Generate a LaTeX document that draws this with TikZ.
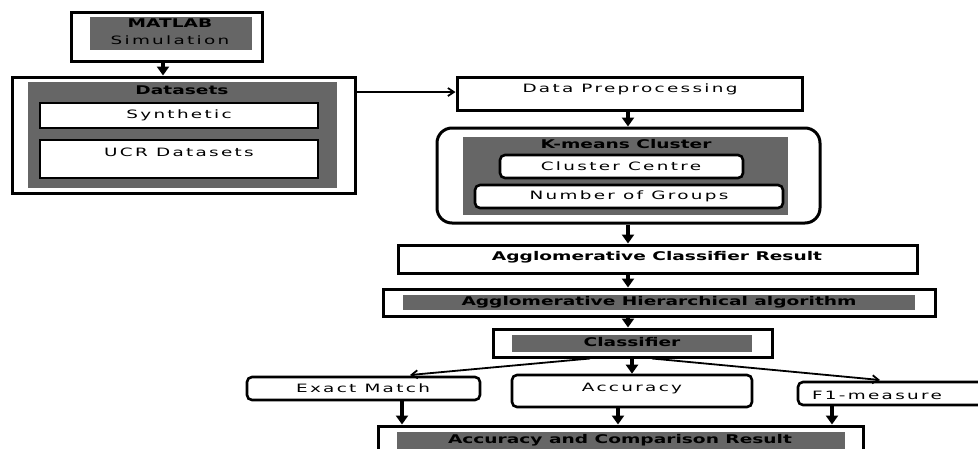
\documentclass[tikz,border=0pt]{standalone}
\usepackage{fontspec}
\usepackage{tikz}
\usetikzlibrary{arrows.meta}

\newfontfamily\bodyfont{DejaVu Sans}[FakeStretch=1.6, LetterSpace=20]
\newfontfamily\headfont{DejaVu Sans}[FakeStretch=1.55]
\definecolor{panelgray}{HTML}{666666}

\begin{document}
\begin{tikzpicture}[x=1pt, y=-1pt,
                    outerbox/.style={draw, line width=3pt, fill=white, inner sep=0pt},
                    panel/.style={fill=panelgray, inner sep=0pt},
                    innerbox/.style={draw, line width=2.6pt, fill=white, inner sep=0pt},
                    roundbox/.style={innerbox, rounded corners=5pt},
                    txt/.style={inner sep=0pt, font=\bodyfont\fontsize{11.5}{13}\selectfont},
                    head/.style={inner sep=0pt, font=\headfont\bfseries\fontsize{12}{14}\selectfont},
                    flow/.style={-{Triangle[length=9pt, width=12pt]}, line width=3.2pt},
                    thinflow/.style={-{Straight Barb[length=6pt, width=8pt]}, line width=1.8pt}]

    \useasboundingbox (0,0) rectangle (978,448);
    \fill[white] (0,0) rectangle (978,448);
    \clip (0,0) rectangle (978,448);

    % left column
    \node[outerbox, minimum width=191pt, minimum height=49pt] (matlab) at (166.5,36.5) {};
    \node[panel, minimum width=162pt, minimum height=33pt] (matlabp) at (171,33.5) {};
    \node[head] (matlabt) at (170,23) {MATLAB};
    \node[txt] (simt) at (170,40) {Simulation};

    \node[outerbox, minimum width=343pt, minimum height=116pt] (data) at (183.5,135) {};
    \node[panel, minimum width=309pt, minimum height=106pt] (datap) at (182.5,135) {};
    \node[head] (datat) at (182,90) {Datasets};
    \node[innerbox, minimum width=278pt, minimum height=25pt] (synth) at (179,115.5) {};
    \node[txt] (syntht) at (179,115) {Synthetic};
    \node[innerbox, minimum width=278pt, minimum height=38pt] (ucr) at (179,159) {};
    \node[txt] (ucrt) at (179,152) {UCR Datasets};

    % right column
    \node[outerbox, minimum width=345pt, minimum height=33pt] (prep) at (629.5,93.5) {};
    \node[txt] (prept) at (630,89) {Data Preprocessing};

    \node[outerbox, rounded corners=15pt, minimum width=383pt, minimum height=95pt] (kmeans) at (628.5,175.5) {};
    \node[panel, minimum width=325pt, minimum height=78pt] (kmeansp) at (625.5,176) {};
    \node[head] (kmeanst) at (626,144) {K-means Cluster};
    \node[roundbox, minimum width=243pt, minimum height=23pt] (centre) at (621.5,166.5) {};
    \node[txt] (centret) at (621,166) {Cluster Centre};
    \node[roundbox, minimum width=308pt, minimum height=23pt] (groups) at (629,196.5) {};
    \node[txt] (groupst) at (629,196) {Number of Groups};

    \node[outerbox, minimum width=519pt, minimum height=28pt] (aggres) at (657.5,259) {};
    \node[head] (aggrest) at (657,257) {Agglomerative Classifier Result};

    \node[outerbox, minimum width=552pt, minimum height=27pt] (aggalg) at (659,302.5) {};
    \node[panel, minimum width=512pt, minimum height=15pt] (aggalgp) at (659,302.5) {};
    \node[head] (aggalgt) at (659,302) {Agglomerative Hierarchical algorithm};

    \node[outerbox, minimum width=279pt, minimum height=28pt] (clsf) at (632.5,343) {};
    \node[panel, minimum width=240pt, minimum height=17pt] (clsfp) at (632,343.5) {};
    \node[head] (clsft) at (632,342) {Classifier};

    % measures
    \node[roundbox, minimum width=233pt, minimum height=23pt] (exact) at (363.5,388.5) {};
    \node[txt] (exactt) at (363,388) {Exact Match};
    \node[roundbox, minimum width=240pt, minimum height=32pt] (acc) at (632,391) {};
    \node[txt] (acct) at (632,388) {Accuracy};
    \node[roundbox, minimum width=187pt, minimum height=23pt] (fone) at (891.5,393.5) {};
    \node[txt] (fonet) at (877,395) {F1-measure};

    \node[outerbox, minimum width=485pt, minimum height=44pt] (result) at (620.5,448) {};
    \node[panel, minimum width=448pt, minimum height=33pt] (resultp) at (621,448.5) {};
    \node[head] (resultt) at (620,440) {Accuracy and Comparison Result};

    % connectors
    \draw[flow] (matlab.south -| 163,0) -- (data.north -| 163,0);
    \draw[thinflow] (data.east |- 0,92) -- (prep.west |- 0,92);
    \draw[flow] (prep.south -| 628,0) -- (kmeans.north -| 628,0);
    \draw[flow] (kmeans.south -| 628,0) -- (aggres.north -| 628,0);
    \draw[flow] (aggres.south -| 628,0) -- (aggalg.north -| 628,0);
    \draw[flow] (aggalg.south -| 628,0) -- (clsf.north -| 628,0);
    \draw[flow] (clsf.south -| 632,0) -- (acc.north -| 632,0);
    \draw[thinflow] (clsf.south -| 590,0) -- (410,375);
    \draw[thinflow] (clsf.south -| 652,0) -- (880,380);
    \draw[flow] (exact.south -| 402,0) -- (result.north -| 402,0);
    \draw[flow] (acc.south -| 618,0) -- (result.north -| 618,0);
    \draw[flow] (fone.south -| 832,0) -- (result.north -| 832,0);
\end{tikzpicture}
\end{document}
